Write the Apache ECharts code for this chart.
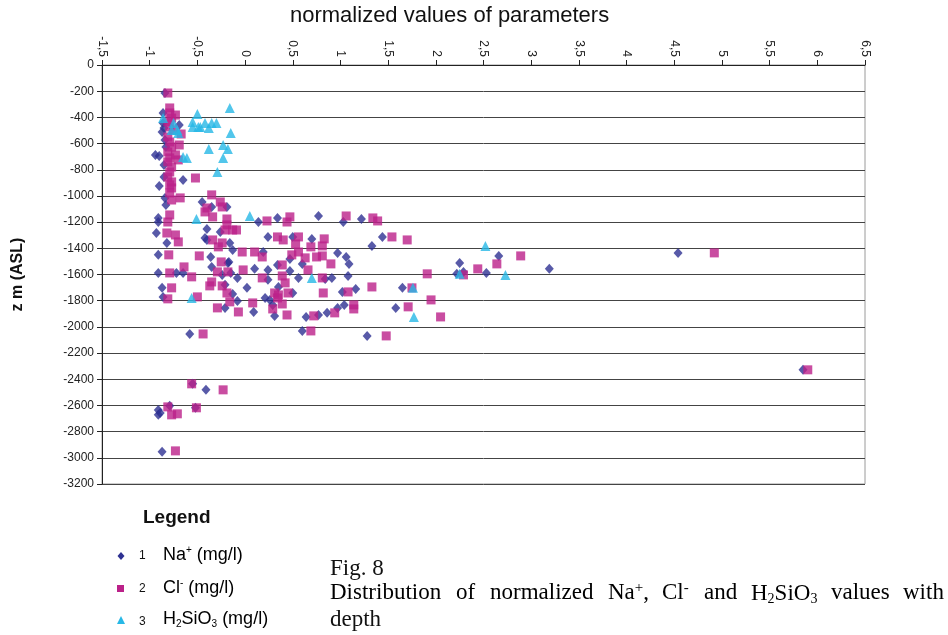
<!DOCTYPE html>
<html lang="en">
<head>
    <meta charset="UTF-8">
    <title>Fig. 8</title>
    <script src="https://cdn.jsdelivr.net/npm/echarts@6/dist/echarts.min.js"></script>
</head>
<body style="margin:0;background:#fff">
    <div id="main" style="width: 948px;height:635px;"></div>
    <script type="text/javascript">
        // normalized value, depth (m ASL)
        var naData = [
            [-0.84, -214], [-0.86, -366], [-0.86, -443], [-0.85, -481], [-0.69, -458], [-0.87, -511],
            [-0.84, -573], [-0.83, -626], [-0.94, -687], [-0.90, -695], [-0.85, -763], [-0.85, -855],
            [-0.65, -878], [-0.90, -924], [-0.84, -1015], [-0.83, -1069], [-0.35, -1084], [-0.19, -1084],
            [-0.45, -1046], [-0.91, -1168], [-0.91, -1199], [-0.93, -1283], [-0.82, -1359], [-0.40, -1252],
            [-0.42, -1321], [-0.40, -1336], [-0.16, -1359], [0.14, -1199], [0.34, -1168], [-0.91, -1450],
            [-0.17, -1504], [-0.91, -1588], [-0.65, -1588], [-0.72, -1588], [-0.35, -1542], [0.10, -1557],
            [0.24, -1565], [-0.87, -1702], [-0.86, -1771], [0.02, -1702], [0.24, -1641], [0.09, -1886],
            [0.31, -1916], [0.21, -1779], [0.26, -1794], [-0.36, -1466], [-0.18, -1512], [-0.24, -1603],
            [-0.08, -1626], [-0.15, -1588], [-0.21, -1679], [-0.13, -1748], [-0.08, -1802], [-0.21, -1855],
            [0.24, -1313], [0.19, -1428], [0.34, -1527], [0.29, -1832], [-0.26, -1275], [-0.13, -1412],
            [0.77, -1153], [1.03, -1199], [1.22, -1176], [0.50, -1313], [0.70, -1328], [1.33, -1382],
            [1.44, -1313], [0.97, -1435], [1.06, -1466], [1.09, -1519], [0.47, -1481], [0.47, -1573],
            [0.60, -1519], [0.56, -1626], [0.84, -1634], [0.91, -1626], [1.08, -1611], [0.35, -1695],
            [0.50, -1741], [1.02, -1733], [1.16, -1710], [1.65, -1702], [1.04, -1832], [0.97, -1855],
            [0.86, -1893], [0.77, -1909], [0.64, -1924], [1.58, -1855], [0.60, -2031], [1.28, -2069],
            [2.25, -1512], [2.22, -1595], [2.29, -1580], [2.53, -1588], [2.66, -1458], [3.19, -1557],
            [4.54, -1435], [5.85, -2328], [-0.58, -2054], [-0.55, -2435], [-0.41, -2481], [-0.91, -2634],
            [-0.89, -2657], [-0.91, -2672], [-0.79, -2603], [-0.52, -2618], [-0.87, -2954]
        ];
        var clData = [
            [-0.81, -214], [-0.79, -328], [-0.79, -366], [-0.73, -382], [-0.77, -405], [-0.81, -435],
            [-0.79, -473], [-0.75, -496], [-0.67, -527], [-0.81, -550], [-0.79, -588], [-0.69, -611],
            [-0.77, -626], [-0.81, -664], [-0.73, -687], [-0.79, -710], [-0.70, -725], [-0.81, -740],
            [-0.77, -779], [-0.79, -817], [-0.52, -863], [-0.81, -855], [-0.77, -893], [-0.79, -916],
            [-0.77, -939], [-0.79, -977], [-0.68, -1015], [-0.77, -1031], [-0.35, -992], [-0.26, -1046],
            [-0.24, -1084], [-0.40, -1092], [-0.42, -1122], [-0.34, -1160], [-0.19, -1176], [-0.79, -1145],
            [-0.81, -1199], [-0.82, -1283], [-0.73, -1298], [-0.70, -1351], [-0.34, -1336], [-0.24, -1359],
            [-0.28, -1389], [-0.19, -1221], [-0.21, -1260], [-0.13, -1260], [-0.09, -1260], [-0.03, -1428],
            [-0.80, -1450], [-0.48, -1458], [-0.25, -1504], [-0.79, -1588], [-0.64, -1542], [-0.56, -1618],
            [-0.77, -1702], [-0.29, -1580], [-0.18, -1580], [-0.35, -1657], [-0.37, -1687], [-0.24, -1687],
            [-0.19, -1741], [-0.29, -1855], [-0.16, -1809], [-0.07, -1886], [0.08, -1817], [0.31, -1741],
            [0.34, -1779], [0.39, -1825], [0.29, -1863], [0.44, -1909], [-0.81, -1786], [-0.50, -1771],
            [-0.44, -2054], [-0.02, -1565], [0.10, -1428], [0.18, -1466], [0.23, -1191], [0.34, -1313],
            [0.40, -1336], [0.39, -1527], [0.18, -1626], [0.44, -1199], [0.47, -1160], [1.06, -1153],
            [1.34, -1168], [1.39, -1191], [0.56, -1313], [0.53, -1367], [0.69, -1389], [0.83, -1328],
            [0.81, -1382], [0.49, -1450], [0.56, -1428], [0.63, -1473], [0.75, -1466], [0.81, -1458],
            [0.90, -1519], [0.66, -1565], [0.39, -1611], [0.81, -1626], [0.42, -1664], [0.45, -1741],
            [0.35, -1756], [0.82, -1741], [1.08, -1733], [1.33, -1695], [1.14, -1832], [1.14, -1863],
            [0.94, -1893], [0.72, -1916], [0.69, -2031], [1.48, -2069], [1.54, -1313], [1.70, -1336],
            [1.71, -1847], [1.75, -1702], [1.91, -1595], [2.29, -1603], [2.44, -1557], [2.64, -1519],
            [2.89, -1458], [1.95, -1794], [2.05, -1924], [4.92, -1435], [5.90, -2328], [-0.56, -2435],
            [-0.23, -2481], [-0.81, -2611], [-0.77, -2672], [-0.71, -2664], [-0.51, -2618], [-0.73, -2947]
        ];
        var siData = [
            [-0.86, -405], [-0.50, -374], [-0.16, -328], [-0.55, -435], [-0.55, -473], [-0.49, -473],
            [-0.47, -473], [-0.42, -443], [-0.35, -443], [-0.30, -443], [-0.38, -481], [-0.75, -443],
            [-0.77, -496], [-0.71, -496], [-0.70, -519], [-0.15, -519], [-0.38, -641], [-0.23, -611],
            [-0.18, -641], [-0.23, -710], [-0.65, -702], [-0.61, -710], [-0.29, -817], [-0.51, -1176],
            [0.05, -1153], [-0.56, -1779], [0.70, -1626], [1.76, -1702], [1.77, -1924], [2.52, -1382],
            [2.25, -1595], [2.73, -1603]
        ];

        var NAVY = '#2e3192', MAGENTA = '#bb2189', CYAN = '#27b8e6';

        // caption words, spread like the justified line in the figure
        var capWords = [
            ['{a|Distribution}', 330], ['{a|of}', 456], ['{a|normalized}', 490], ['{a|Na}{sup|+}{a|,}', 608],
            ['{a|Cl}{sup|-}', 662], ['{a|and}', 704], ['{a|H}{sub|2}{a|SiO}{sub|3}', 751], ['{a|values}', 831], ['{a|with}', 903]
        ];

        var myChart = echarts.init(document.getElementById('main'));

        var legendRich = {
            a: {fontFamily: 'Liberation Sans', fontSize: 18, color: '#111'},
            sup: {fontFamily: 'Liberation Sans', fontSize: 10, color: '#111', padding: [0, 0, 10, 0]},
            sub: {fontFamily: 'Liberation Sans', fontSize: 10, color: '#111', padding: [9, 0, 0, 0]}
        };
        var serifRich = {
            a: {fontFamily: 'Liberation Serif', fontSize: 23, color: '#111'},
            sup: {fontFamily: 'Liberation Serif', fontSize: 15, color: '#111', padding: [0, 0, 9, 0]},
            sub: {fontFamily: 'Liberation Serif', fontSize: 14, color: '#111', padding: [11, 0, 0, 0]}
        };

        var graphics = [
            {type: 'text', x: 290, y: 5, style: {text: 'normalized values of parameters', font: '22px Liberation Sans', fill: '#111'}},
            {type: 'text', x: 143, y: 508, style: {text: 'Legend', font: 'bold 19px Liberation Sans', fill: '#111'}},
            {type: 'polygon', shape: {points: [[121, 552], [124.5, 556], [121, 560], [117.5, 556]]}, style: {fill: NAVY}},
            {type: 'rect', shape: {x: 117, y: 585, width: 7, height: 7}, style: {fill: MAGENTA}},
            {type: 'polygon', shape: {points: [[121, 616], [125, 624], [117, 624]]}, style: {fill: CYAN}},
            {type: 'text', x: 139, y: 550, style: {text: '1', font: '12px Liberation Sans', fill: '#111'}},
            {type: 'text', x: 139, y: 583, style: {text: '2', font: '12px Liberation Sans', fill: '#111'}},
            {type: 'text', x: 139, y: 616, style: {text: '3', font: '12px Liberation Sans', fill: '#111'}},
            {type: 'text', x: 163, y: 545, style: {text: '{a|Na}{sup|+}{a| (mg/l)}', rich: legendRich}},
            {type: 'text', x: 163, y: 578, style: {text: '{a|Cl}{sup|-}{a| (mg/l)}', rich: legendRich}},
            {type: 'text', x: 163, y: 610, style: {text: '{a|H}{sub|2}{a|SiO}{sub|3}{a| (mg/l)}', rich: legendRich}},
            {type: 'text', x: 330, y: 557, style: {text: 'Fig. 8', font: '23px Liberation Serif', fill: '#111'}},
            {type: 'text', x: 330, y: 608, style: {text: 'depth', font: '23px Liberation Serif', fill: '#111'}}
        ];
        capWords.forEach(function (w) {
            graphics.push({type: 'text', x: w[1], y: 581, style: {text: w[0], rich: serifRich}});
        });

        myChart.setOption({
            animation: false,
            grid: {left: 102, right: 83, top: 65, bottom: 151, show: true, borderColor: '#9a9a9a', borderWidth: 1},
            xAxis: {
                type: 'value', position: 'top', min: -1.5, max: 6.5, interval: 0.5,
                axisLine: {show: true, onZero: false, lineStyle: {color: '#222'}},
                axisTick: {show: true, length: 5, lineStyle: {color: '#222'}},
                axisLabel: {
                    rotate: 90, fontSize: 12, color: '#222', fontFamily: 'Liberation Sans', margin: 8,
                    formatter: function (v) { return String(v).replace('.', ','); }
                },
                splitLine: {show: false}
            },
            yAxis: {
                type: 'value', min: -3200, max: 0, interval: 200,
                name: 'z m (ASL)', nameLocation: 'middle', nameGap: 76, nameRotate: 90,
                nameTextStyle: {fontSize: 16, fontWeight: 'bold', color: '#111', fontFamily: 'Liberation Sans'},
                axisLine: {show: true, onZero: false, lineStyle: {color: '#222'}},
                axisTick: {show: true, length: 5, lineStyle: {color: '#222'}},
                axisLabel: {
                    fontSize: 12, color: '#222', fontFamily: 'Liberation Sans', margin: 8,
                    formatter: function (v) { return String(v); }
                },
                splitLine: {show: true, lineStyle: {color: '#444', width: 1}}
            },
            series: [
                {name: 'Na', type: 'scatter', symbol: 'diamond', symbolSize: [9, 10], data: naData, itemStyle: {color: NAVY}},
                {name: 'Cl', type: 'scatter', symbol: 'rect', symbolSize: 9, data: clData, itemStyle: {color: MAGENTA}},
                {name: 'H2SiO3', type: 'scatter', symbol: 'triangle', symbolSize: 10, data: siData, itemStyle: {color: CYAN}}
            ],
            graphic: graphics
        });
    </script>
</body>
</html>
